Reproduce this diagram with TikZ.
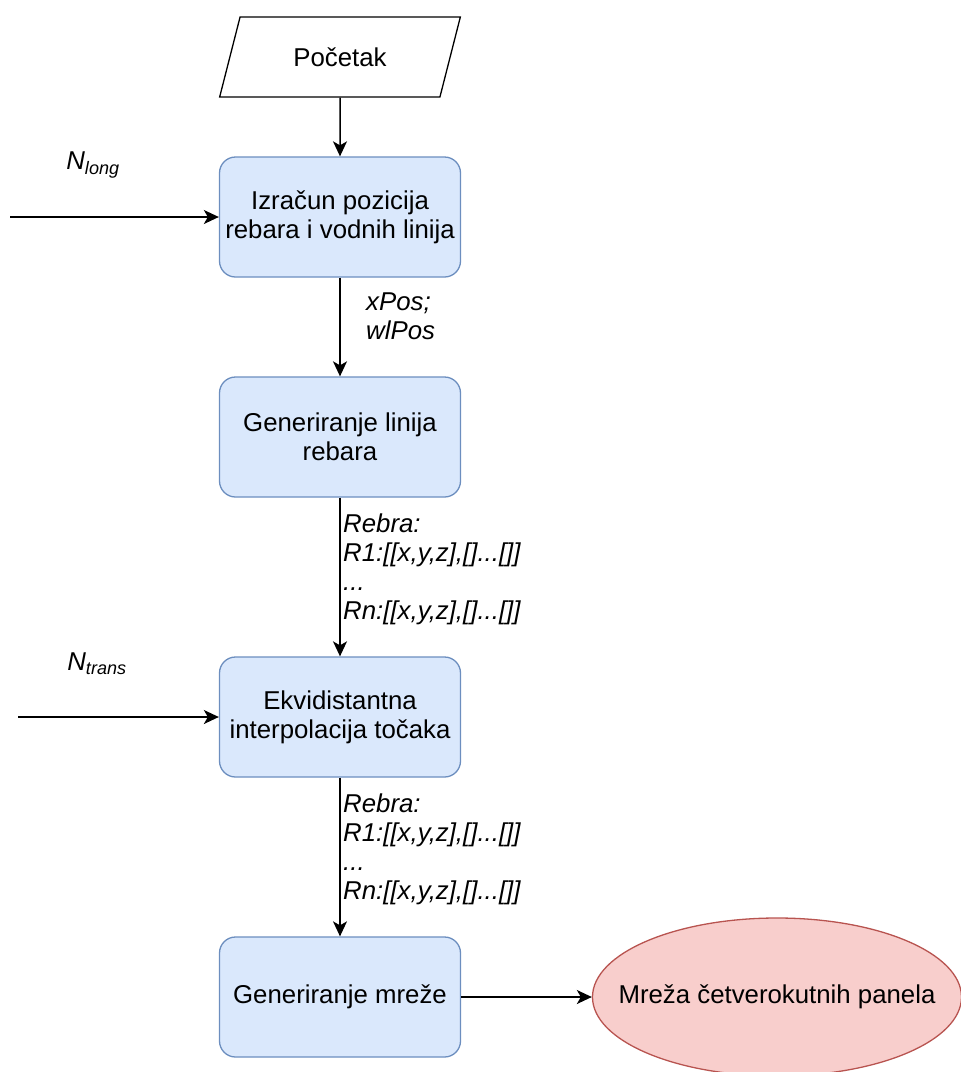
\documentclass[tikz,border=0pt]{standalone}
\usepackage{fontspec}
\setmainfont{Liberation Sans}
\usetikzlibrary{shapes.geometric,arrows.meta}
\definecolor{bfill}{HTML}{DAE8FC}
\definecolor{bdraw}{HTML}{6C8EBF}
\definecolor{rfill}{HTML}{F8CECC}
\definecolor{rdraw}{HTML}{B85450}
\tikzset{
  x=1pt,y=1pt,
  every node/.style={font=\fontsize{25.8}{29}\selectfont},
  procbox/.style={draw=bdraw,fill=bfill,line width=1.3pt,rounded corners=16pt,
    minimum width=241pt,minimum height=120pt,align=center,inner sep=2pt},
  arr/.style={line width=1.5pt,-{Stealth[length=15pt,width=14pt,inset=4pt]}},
  lbl/.style={align=left,inner sep=0pt,font=\fontsize{25.8}{29}\selectfont\itshape},
}
\begin{document}
\begin{tikzpicture}
\useasboundingbox (0,0) rectangle (961,-1072);
% start parallelogram
\node[draw=black,line width=1.3pt,trapezium,trapezium stretches=true,
  trapezium left angle=63.43,trapezium right angle=116.57,
  minimum width=241pt,minimum height=80pt,inner sep=0pt] (start) at (340,-57) {Početak};
\node[procbox] (b1) at (340,-217) {Izračun pozicija\\rebara i vodnih linija};
\node[procbox] (b2) at (340,-437) {Generiranje linija\\rebara};
\node[procbox] (b3) at (340,-717) {Ekvidistantna\\interpolacija točaka};
\node[procbox] (b4) at (340,-997) {Generiranje mreže};
\node[draw=rdraw,fill=rfill,line width=1.3pt,ellipse,minimum width=369pt,minimum height=158pt,inner sep=0pt,
  label={center:Mreža četverokutnih panela}] (out) at (777,-997) {};
% inputs
\coordinate (inlong) at (10,-217);
\coordinate (intrans) at (18,-717);
\node[lbl] (nlong) at (93,-165) {N\textsubscript{long}};
\node[lbl] (ntrans) at (97,-664) {N\textsubscript{trans}};
% arrows
\draw[arr] (start) -- (b1);
\draw[arr] (inlong) -- (b1);
\draw[arr] (b1) -- (b2);
\draw[arr] (b2) -- (b3);
\draw[arr] (intrans) -- (b3);
\draw[arr] (b3) -- (b4);
\draw[arr] (b4) -- (out);
% edge labels
\node[lbl,anchor=north west] (l1) at (366,-293) {xPos;\\wlPos};
\node[lbl,anchor=north west] (l2) at (343,-514) {Rebra:\\R1:[[x,y,z],[]...[]]\\...\\Rn:[[x,y,z],[]...[]]};
\node[lbl,anchor=north west] (l3) at (343,-794) {Rebra:\\R1:[[x,y,z],[]...[]]\\...\\Rn:[[x,y,z],[]...[]]};
\end{tikzpicture}
\end{document}
